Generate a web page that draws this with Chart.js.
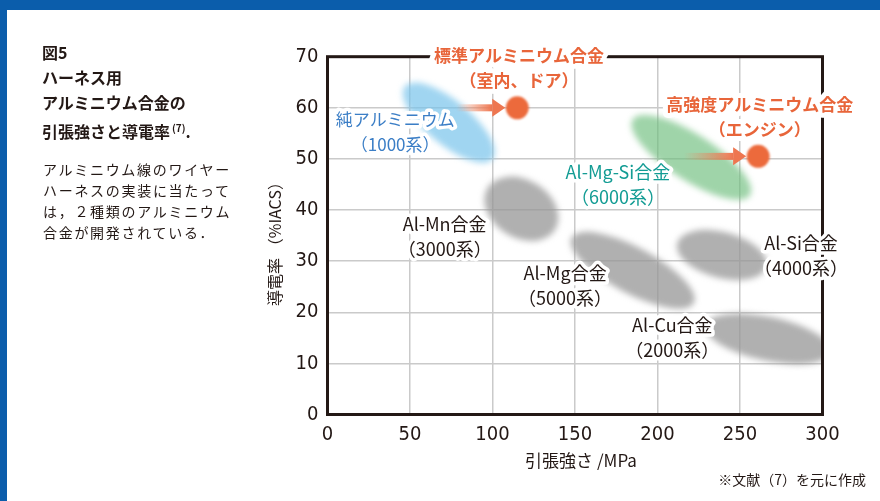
<!DOCTYPE html>
<html>
<head>
<meta charset="utf-8">
<script src="https://cdn.jsdelivr.net/npm/chart.js@4.4.0/dist/chart.umd.min.js"></script>
<style>
html, body { margin: 0; padding: 0; background: #fff; }
#wrap { position: relative; width: 880px; height: 501px; overflow: hidden; background: #fff;
        font-family: "Noto Sans CJK JP", sans-serif; color: #231815; }
canvas { position: absolute; left: 0; top: 0; }
#topbar { position: absolute; left: 0; top: 0; width: 880px; height: 10px; background: #0b5dab; }
#leftbar { position: absolute; left: 0; top: 0; width: 7px; height: 501px; background: #0b5dab; }
#title { position: absolute; left: 42px; top: 40px; font-size: 16px; font-weight: bold; line-height: 25px; }
#title sup { font-size: 10px; vertical-align: 6px; margin-left: 2px; }
#desc { position: absolute; left: 43px; top: 159px; font-size: 14px; line-height: 21px; letter-spacing: 1.7px; color: #231815; }
#note { position: absolute; right: 14px; top: 469px; font-size: 14px; }
</style>
</head>
<body>
<div id="wrap">
  <canvas id="myChart" width="880" height="501"></canvas>
  <div id="topbar"></div>
  <div id="leftbar"></div>
  <div id="title">図5<br>ハーネス用<br>アルミニウム合金の<br>引張強さと導電率<sup>(7)</sup>.</div>
  <div id="desc">アルミニウム線のワイヤー<br>ハーネスの実装に当たって<br>は，２種類のアルミニウム<br>合金が開発されている．</div>
  <div id="note">※文献（7）を元に作成</div>
</div>
<script>
// 各合金系の範囲（楕円の長軸の両端）  引張強さ MPa / 導電率 %IACS
var groups        = ['純アルミニウム', 'Al-Mg-Si合金', 'Al-Mn合金', 'Al-Mg合金', 'Al-Si合金', 'Al-Cu合金'];
var strengthFrom  = [47, 185, 97, 148, 212, 229];
var strengthTo    = [100, 256, 138, 222, 266, 305];
var iacsFrom      = [64.2, 57.7, 44.3, 34.6, 33.5, 17.4];
var iacsTo        = [50.0, 42.9, 36.2, 21.8, 28.9, 12.2];

// 開発された2種類の合金
var alloyNames     = ['標準アルミニウム合金', '高強度アルミニウム合金'];
var alloyStrength  = [115, 261];
var alloyIacs      = [60, 50.5];
var arrowFrom      = [78, 216];

var xTicks = [0, 50, 100, 150, 200, 250, 300];
var yTicks = [0, 10, 20, 30, 40, 50, 60, 70];

// 見た目
var blobStyle = [
    { minor: 22, color: 'rgba(120,195,235,0.70)' },
    { minor: 23, color: 'rgba(110,190,125,0.66)' },
    { minor: 29, color: 'rgba(150,150,150,0.75)' },
    { minor: 23, color: 'rgba(150,150,150,0.75)' },
    { minor: 23, color: 'rgba(150,150,150,0.75)' },
    { minor: 22, color: 'rgba(150,150,150,0.75)' }
];
var ORANGE = '#e8653a';
var JP = '"Noto Sans CJK JP", sans-serif';
var NUM = '"Liberation Sans Narrow", "DejaVu Sans Condensed", "Roboto", sans-serif';

// ラベル（1行目の中心、データ座標）
var notes = [
    { lines: ['標準アルミニウム合金', '（室内、ドア）'], x: 116, y: 70.3, color: ORANGE, bold: true, size: 17 },
    { lines: ['高強度アルミニウム合金', '（エンジン）'], x: 262, y: 60.6, color: ORANGE, bold: true, size: 17 },
    { lines: ['純アルミニウム', '（1000系）'], x: 41, y: 57.8, color: '#3b7ec6', size: 17 },
    { lines: ['Al-Mg-Si合金', '（6000系）'], x: 176, y: 47.4, color: '#139c94', size: 18 },
    { lines: ['Al-Mn合金', '（3000系）'], x: 71, y: 37.3, color: '#231815', size: 18 },
    { lines: ['Al-Mg合金', '（5000系）'], x: 144, y: 27.7, color: '#231815', size: 18 },
    { lines: ['Al-Si合金', '（4000系）'], x: 287, y: 33.6, color: '#231815', size: 18 },
    { lines: ['Al-Cu合金', '（2000系）'], x: 209, y: 17.4, color: '#231815', size: 18 }
];

function haloText(ctx, text, px, py, color, font, halo) {
    ctx.font = font;
    ctx.textAlign = 'center';
    ctx.textBaseline = 'middle';
    ctx.lineJoin = 'round';
    ctx.strokeStyle = '#fff';
    ctx.lineWidth = halo;
    ctx.strokeText(text, px, py);
    ctx.fillStyle = color;
    ctx.fillText(text, px, py);
}

var drawPlugin = {
    id: 'drawPlugin',
    beforeDatasetsDraw: function (chart) {
        var ctx = chart.ctx, a = chart.chartArea, x = chart.scales.x, y = chart.scales.y;

        // ぼかした楕円
        ctx.save();
        ctx.beginPath();
        ctx.rect(a.left, a.top, a.right - a.left, a.bottom - a.top);
        ctx.clip();
        ctx.filter = 'blur(3px)';
        for (var i = 0; i < groups.length; i++) {
            var x1 = x.getPixelForValue(strengthFrom[i]), y1 = y.getPixelForValue(iacsFrom[i]);
            var x2 = x.getPixelForValue(strengthTo[i]),   y2 = y.getPixelForValue(iacsTo[i]);
            var rx = Math.hypot(x2 - x1, y2 - y1) / 2;
            var ang = Math.atan2(y2 - y1, x2 - x1);
            ctx.fillStyle = blobStyle[i].color;
            ctx.beginPath();
            ctx.ellipse((x1 + x2) / 2, (y1 + y2) / 2, rx, blobStyle[i].minor, ang, 0, Math.PI * 2);
            ctx.fill();
        }
        ctx.restore();

        // 枠
        ctx.save();
        ctx.strokeStyle = '#231815';
        ctx.lineWidth = 3;
        ctx.strokeRect(a.left, a.top, a.right - a.left, a.bottom - a.top);
        ctx.restore();

        // 矢印
        for (var j = 0; j < alloyStrength.length; j++) {
            var tx = x.getPixelForValue(arrowFrom[j]);
            var ex = x.getPixelForValue(alloyStrength[j]) - 12;
            var py = y.getPixelForValue(alloyIacs[j]);
            var head = 13, hh = 9, bh = 3.5;
            var grad = ctx.createLinearGradient(tx, 0, ex - head, 0);
            grad.addColorStop(0, 'rgba(240,135,95,0)');
            grad.addColorStop(1, 'rgba(238,118,80,1)');
            ctx.save();
            ctx.fillStyle = grad;
            ctx.fillRect(tx, py - bh, ex - head - tx, bh * 2);
            ctx.fillStyle = 'rgb(238,118,80)';
            ctx.beginPath();
            ctx.moveTo(ex - head, py - hh);
            ctx.lineTo(ex, py);
            ctx.lineTo(ex - head, py + hh);
            ctx.closePath();
            ctx.fill();
            ctx.restore();
        }
    },
    beforeDatasetDraw: function (chart) {
        chart.ctx.save();
        chart.ctx.filter = 'blur(1.2px)';
    },
    afterDatasetDraw: function (chart) {
        chart.ctx.restore();
    },
    afterDatasetsDraw: function (chart) {
        var ctx = chart.ctx, x = chart.scales.x, y = chart.scales.y;
        ctx.save();
        notes.forEach(function (n) {
            var px = x.getPixelForValue(n.x), py = y.getPixelForValue(n.y);
            var font = (n.bold ? 'bold ' : '') + n.size + 'px ' + JP;
            n.lines.forEach(function (t, k) {
                haloText(ctx, t, px, py + k * 25, n.color, font, n.bold ? 10 : 7);
            });
        });

        // 軸タイトル
        ctx.fillStyle = '#231815';
        ctx.font = '17px ' + JP;
        ctx.textAlign = 'center';
        ctx.textBaseline = 'middle';
        ctx.fillText('引張強さ /MPa', (chart.chartArea.left + chart.chartArea.right) / 2 + 6, 461);
        ctx.translate(275, 240);
        ctx.rotate(-Math.PI / 2);
        ctx.font = '16px ' + JP;
        ctx.fillText('導電率 （%IACS）', 0, 0);
        ctx.restore();
    }
};

var ctx = document.getElementById('myChart').getContext('2d');
var myChart = new Chart(ctx, {
    type: 'scatter',
    data: {
        datasets: [{
            label: '開発合金',
            data: alloyStrength.map(function (v, i) { return { x: v, y: alloyIacs[i] }; }),
            backgroundColor: '#ec6a3c',
            borderWidth: 0,
            pointRadius: 11.5,
            pointHoverRadius: 11.5
        }]
    },
    options: {
        responsive: false,
        animation: false,
        devicePixelRatio: 1,
        layout: { padding: { left: 260, right: 57.5, top: 56.7, bottom: 0 } },
        plugins: { legend: { display: false }, tooltip: { enabled: false } },
        scales: {
            x: {
                type: 'linear', min: 0, max: 300,
                afterBuildTicks: function (s) { s.ticks = xTicks.map(function (v) { return { value: v }; }); },
                afterFit: function (s) { s.height = 86.5; },
                grid: { color: '#cacaca', lineWidth: 1.5, drawTicks: false },
                border: { display: false },
                ticks: { padding: 8, color: '#231815', font: { family: NUM, size: 20 } }
            },
            y: {
                type: 'linear', min: 0, max: 70,
                afterBuildTicks: function (s) { s.ticks = yTicks.map(function (v) { return { value: v }; }); },
                afterFit: function (s) { s.width = 67.5; },
                grid: { color: '#cacaca', lineWidth: 1.5, drawTicks: false },
                border: { display: false },
                ticks: { padding: 9, color: '#231815', font: { family: NUM, size: 20 } }
            }
        }
    },
    plugins: [drawPlugin]
});
</script>
</body>
</html>
